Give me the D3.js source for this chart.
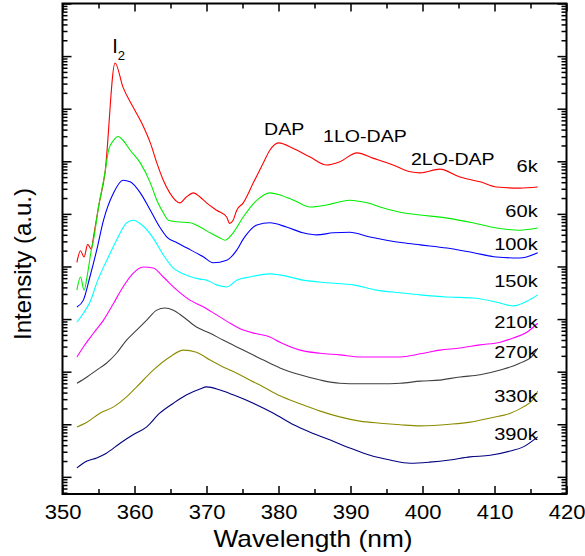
<!DOCTYPE html>
<html>
<head>
<meta charset="utf-8">
<script src="https://cdn.jsdelivr.net/npm/d3@7"></script>
<style>
  body { margin: 0; background: #fff; }
  text { font-family: "Liberation Sans", Arial, sans-serif; fill: #000; }
</style>
</head>
<body>
<svg width="585" height="556"></svg>
<script>
// spectra: [wavelength (nm), log10 intensity (a.u.)]
var spec6k = [[352,5.08],[352.5,5.30],[353,5.18],[353.5,5.42],[354,5.33],[354.3,5.56],[355,6.13],[355.9,6.78],
  [357.3,8.87],[358.4,8.41],[359.8,8.03],[361,7.73],[362.2,7.35],[363.1,6.97],[364,6.64],[364.9,6.40],
  [366.3,6.21],[367.2,6.32],[368.2,6.40],[369.1,6.32],[370,6.21],[371.4,6.07],[372.8,5.94],[373.2,5.82],
  [373.7,5.88],[374.2,6.07],[375.1,6.21],[376.5,6.59],[377.9,6.97],[378.8,7.21],[380,7.35],[382,7.25],
  [384.4,7.08],[386.7,6.93],[388.5,6.99],[390.9,7.16],[393.1,7.06],[395.9,6.93],[398.3,6.80],[399.7,6.78],
  [402.4,6.85],[405.2,6.70],[408,6.61],[410.3,6.51],[413.5,6.49],[416,6.51]];
var spec60k = [[352,4.55],[352.5,4.80],[353,4.55],[353.5,4.88],[354,5.31],[354.3,5.50],[355,6.13],[355.9,6.78],
  [356.4,7.21],[357.1,7.40],[357.75,7.47],[358.4,7.40],[359.4,7.21],[360.8,6.97],[362.2,6.59],[363.1,6.26],
  [364,6.02],[364.7,5.88],[365.9,5.85],[367.7,5.83],[369.1,5.75],[370.5,5.64],[371.9,5.54],[372.6,5.50],
  [373.7,5.64],[375.1,5.94],[377,6.26],[378.8,6.40],[380.2,6.36],[382.1,6.26],[384.4,6.13],[386.7,6.17],
  [389.9,6.26],[392.3,6.21],[394.6,6.11],[396.9,6.03],[399.7,5.98],[403.4,5.92],[407,5.83],[410.3,5.73],
  [413.5,5.69],[416,5.73]];
var spec100k = [[352,4.23],[352.9,4.36],[353.8,4.80],[354.75,5.31],[355.7,5.88],[357.1,6.40],[358.4,6.64],
  [359.4,6.61],[360.8,6.40],[362.2,6.07],[363.5,5.75],[364.5,5.56],[365.9,5.45],[367.3,5.35],[369.6,5.18],
  [370.9,5.07],[372.8,5.12],[374.2,5.31],[375.1,5.52],[377,5.79],[378.8,5.83],[381.1,5.75],[383.4,5.64],
  [385.3,5.60],[387.6,5.64],[389.9,5.65],[392.7,5.56],[395,5.50],[397.3,5.45],[399.7,5.41],[403.4,5.35],
  [407.1,5.26],[410.3,5.18],[413.5,5.16],[416,5.26]];
var spec150k = [[352,3.94],[352.9,4.11],[353.8,4.32],[354.9,4.74],[356.3,5.16],[357.5,5.50],[358.9,5.83],
  [359.8,5.88],[361.2,5.77],[362.6,5.54],[364,5.22],[365.4,4.97],[366.3,4.89],[367.5,4.82],[369.1,4.76],
  [370,4.74],[371.4,4.65],[372.8,4.61],[374.2,4.74],[376,4.80],[378.8,4.86],[380.2,4.84],[383.4,4.74],
  [386.7,4.69],[390.4,4.65],[393.6,4.55],[396.9,4.50],[399.7,4.46],[403.4,4.42],[407.1,4.40],[410.3,4.32],
  [412.6,4.25],[414.5,4.34],[416,4.46]];
var spec210k = [[352,3.28],[352.9,3.47],[354.3,3.73],[355.7,3.98],[357.1,4.30],[358.4,4.61],[359.8,4.87],
  [361.2,4.99],[362.6,4.97],[364,4.80],[365.9,4.55],[367.7,4.36],[369.6,4.23],[371.4,4.08],[373.3,3.92],
  [375.1,3.79],[377,3.72],[378.8,3.66],[380.2,3.56],[383,3.41],[385.8,3.35],[388.5,3.32],[391.3,3.28],
  [394.1,3.28],[396.9,3.28],[399.7,3.34],[402.4,3.41],[405.2,3.45],[408,3.51],[410.8,3.56],[412.6,3.64],
  [414.5,3.75],[416,3.92]];
var spec270k = [[352,2.78],[353.4,2.90],[354.75,3.03],[356.1,3.16],[357.5,3.35],[358.9,3.60],[360.3,3.79],
  [361.7,3.98],[363.1,4.17],[364.2,4.21],[365.4,4.17],[366.8,4.04],[368.6,3.85],[370.5,3.73],[372.3,3.60],
  [374.2,3.47],[376,3.35],[377.9,3.22],[380.2,3.07],[383,2.94],[385.8,2.84],[388.5,2.78],[391.3,2.77],
  [394.1,2.77],[396.9,2.78],[399.7,2.82],[402.4,2.84],[405.2,2.90],[408,2.94],[410.8,3.03],[413.5,3.16],
  [415.4,3.32],[416,3.45]];
var spec330k = [[352,1.95],[353.4,2.04],[355.2,2.21],[357.1,2.33],[358.9,2.52],[360.3,2.71],[362.6,3.03],
  [364.9,3.28],[366.8,3.41],[368.6,3.37],[370.5,3.22],[372.3,3.09],[374.2,2.97],[376,2.84],[377.9,2.71],
  [380.2,2.54],[383,2.39],[385.8,2.25],[388.5,2.14],[391.3,2.06],[394.1,2.02],[396.9,1.99],[399.7,1.97],
  [403.8,2.00],[406.6,2.04],[409.4,2.12],[412.2,2.21],[414,2.33],[415.4,2.48],[416,2.63]];
var spec390k = [[352,1.17],[353.4,1.30],[354.75,1.36],[356.1,1.45],[358,1.64],[359.8,1.80],[361.7,1.95],
  [363.5,2.21],[365.4,2.40],[367.25,2.56],[369.1,2.67],[370,2.71],[371.9,2.65],[373.7,2.56],[376.5,2.40],
  [379.3,2.21],[382.1,1.99],[384.4,1.85],[387.2,1.70],[389.9,1.55],[392.7,1.41],[395.5,1.32],[398.3,1.26],
  [401,1.28],[403.8,1.32],[406.6,1.38],[409.4,1.41],[412.2,1.49],[414,1.57],[416,1.76]];

var spectra = [spec6k, spec60k, spec100k, spec150k, spec210k, spec270k, spec330k, spec390k];
var tempLabels = ["6k", "60k", "100k", "150k", "210k", "270k", "330k", "390k"];
var tempLabelLevel = [6.80, 5.95, 5.31, 4.61, 3.83, 3.26, 2.43, 1.70];   // log10 I where the label sits
var lineColors = ["#ff0000", "#00ee00", "#0000ff", "#00ffff", "#ff00ff", "#404040", "#8c8c00", "#000080"];

var peakLabels = ["DAP", "1LO-DAP", "2LO-DAP"];
var peakWl = [378.0, 386.2, 398.4];
var peakLevel = [7.50, 7.37, 6.93];

var xMajor = [350, 360, 370, 380, 390, 400, 410, 420];
var xMinor = [355, 365, 375, 385, 395, 405, 415];

var svg = d3.select("svg");

var scaleX = d3.scaleLinear().domain([350, 420]).range([62.5, 566.5]);
var scaleY = d3.scaleLog().domain([Math.pow(10, 0.674), 1e10]).range([494, 3.5]);

function yv(e) { return scaleY(Math.pow(10, e)); }

// stretch text horizontally, the original figure is a bit wider than tall
function stretch(sel, k) {
  sel.each(function() {
    var w = this.getComputedTextLength();
    d3.select(this).attr("textLength", w * k).attr("lengthAdjust", "spacingAndGlyphs");
  });
}

// y ticks: decades and 2..9
var yMajor = [], yMinor = [];
for (var d = 0; d <= 10; d++) {
  var p = Math.pow(10, d);
  if (p >= scaleY.domain()[0]) yMajor.push(p);
  for (var k = 2; k <= 9; k++) {
    var v = k * p;
    if (v >= scaleY.domain()[0] && v < 1e10) yMinor.push(v);
  }
}

function addAxis(axis, tx, ty) {
  var g = svg.append("g").attr("transform", "translate(" + tx + "," + ty + ")").call(axis);
  g.select(".domain").remove();
  g.selectAll("line").attr("stroke", "#000").attr("stroke-width", 1.5);
  return g;
}

// bottom
var gx = addAxis(d3.axisBottom(scaleX).tickValues(xMajor).tickSizeInner(-8).tickSizeOuter(0).tickPadding(11), 0, 494);
gx.selectAll("text").style("font-size", "20px").attr("fill", "#000");
stretch(gx.selectAll("text"), 1.1);
addAxis(d3.axisBottom(scaleX).tickValues(xMinor).tickSizeInner(-5).tickSizeOuter(0).tickFormat(""), 0, 494);
// top
addAxis(d3.axisTop(scaleX).tickValues(xMajor).tickSizeInner(-8).tickSizeOuter(0).tickFormat(""), 0, 3.5);
addAxis(d3.axisTop(scaleX).tickValues(xMinor).tickSizeInner(-5).tickSizeOuter(0).tickFormat(""), 0, 3.5);
// left
addAxis(d3.axisLeft(scaleY).tickValues(yMajor).tickSizeInner(-9).tickSizeOuter(0).tickFormat(""), 62.5, 0);
addAxis(d3.axisLeft(scaleY).tickValues(yMinor).tickSizeInner(-5).tickSizeOuter(0).tickFormat(""), 62.5, 0);
// right
addAxis(d3.axisRight(scaleY).tickValues(yMajor).tickSizeInner(-9).tickSizeOuter(0).tickFormat(""), 566.5, 0);
addAxis(d3.axisRight(scaleY).tickValues(yMinor).tickSizeInner(-5).tickSizeOuter(0).tickFormat(""), 566.5, 0);

// frame
svg.append("rect")
  .attr("x", 62.5).attr("y", 3.5)
  .attr("width", 566.5 - 62.5).attr("height", 494 - 3.5)
  .attr("fill", "none").attr("stroke", "#000").attr("stroke-width", 2);

// spectra
var line = d3.line()
  .x(function(d) { return scaleX(d[0]); })
  .y(function(d) { return yv(d[1]); })
  .curve(d3.curveMonotoneX);

svg.selectAll("path.spec")
  .data(spectra)
  .enter().append("path")
  .attr("class", "spec")
  .attr("d", line)
  .attr("fill", "none")
  .attr("stroke", function(d, i) { return lineColors[i]; })
  .attr("stroke-width", 1.1);

// temperature labels
var tl = svg.selectAll("text.temp")
  .data(tempLabels)
  .enter().append("text")
  .attr("class", "temp")
  .attr("x", scaleX(416))
  .attr("y", function(d, i) { return yv(tempLabelLevel[i]); })
  .attr("text-anchor", "end")
  .style("font-size", "17px")
  .text(function(d) { return d; });
stretch(tl, 1.18);

// peak labels
var pl = svg.selectAll("text.peak")
  .data(peakLabels)
  .enter().append("text")
  .attr("class", "peak")
  .attr("x", function(d, i) { return scaleX(peakWl[i]); })
  .attr("y", function(d, i) { return yv(peakLevel[i]); })
  .style("font-size", "17px")
  .text(function(d) { return d; });
stretch(pl, 1.15);

var i2 = svg.append("text")
  .attr("x", scaleX(356.9))
  .attr("y", yv(9.06))
  .style("font-size", "20px");
i2.append("tspan").text("I");
i2.append("tspan").attr("dy", 7).style("font-size", "13px").text("2");

// axis titles
var xt = svg.append("text")
  .attr("x", 313).attr("y", 547)
  .attr("text-anchor", "middle")
  .style("font-size", "24px")
  .text("Wavelength (nm)");
stretch(xt, 1.095);

svg.append("text")
  .attr("transform", "translate(31,264) rotate(-90)")
  .attr("text-anchor", "middle")
  .style("font-size", "24px")
  .text("Intensity (a.u.)");
</script>
</body>
</html>
